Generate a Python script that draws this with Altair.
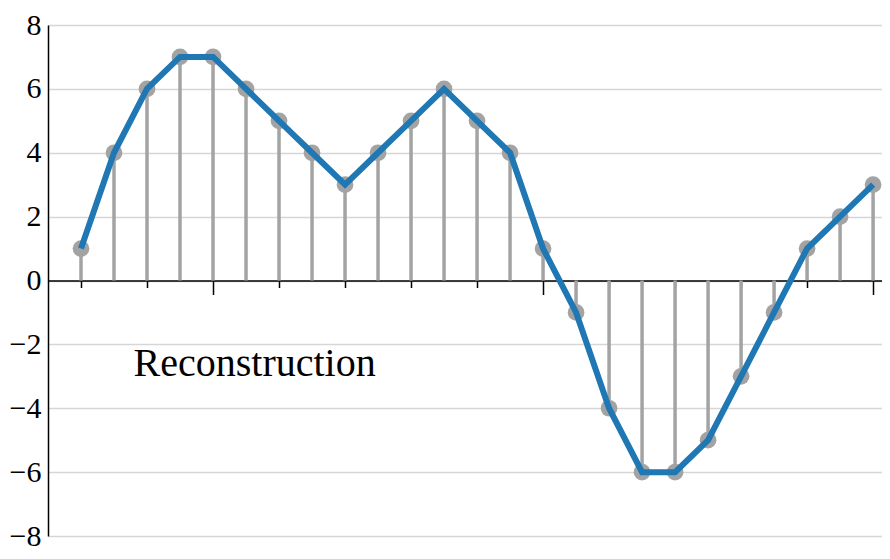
import altair as alt
import pandas as pd

idx = list(range(1, 26))
values = [1, 4, 6, 7, 7, 6, 5, 4, 3, 4, 5, 6, 5, 4, 1, -1, -4, -6, -6, -5, -3, -1, 1, 2, 3]
y_ticks = list(range(-8, 9))
x_ticks = list(range(1, 26))
label_text = ["Reconstruction"]
label_x = [6.26]
label_y = [-3.0]

df = pd.DataFrame({"x": idx, "y": values})
lab = pd.DataFrame({"x": label_x, "y": label_y, "t": label_text})

FONT = "Liberation Serif"

xenc = alt.X(
    "x:Q",
    scale=alt.Scale(domain=[0, 25.27], nice=False, zero=False),
    axis=alt.Axis(
        values=x_ticks,
        labels=False,
        grid=False,
        title=None,
        offset=-255.5,
        domainColor="#000000",
        domainWidth=1.5,
        tickColor="#000000",
        tickWidth=1.5,
        tickSize={"condition": {"test": "datum.value % 5 === 0", "value": 14}, "value": 7},
    ),
)
yenc = alt.Y(
    "y:Q",
    scale=alt.Scale(domain=[-8, 8], nice=False),
    axis=alt.Axis(
        values=y_ticks,
        labelExpr="datum.value % 2 === 0 ? datum.label : ''",
        ticks=False,
        grid=True,
        gridColor="#d6d6d6",
        gridWidth=1.5,
        domainColor="#000000",
        domainWidth=1.5,
        labelFont=FONT,
        labelFontSize=30,
        labelColor="#000000",
        labelPadding=7,
        title=None,
    ),
)

base = alt.Chart(df).encode(x=xenc, y=yenc)

stems = base.mark_rule(color="#a3a3a3", strokeWidth=3.5).encode(y2=alt.Y2(datum=0))
dots = base.mark_circle(color="#a3a3a3", size=280, opacity=1)
line = base.mark_line(color="#1f77b4", strokeWidth=6)
text = alt.Chart(lab).mark_text(font=FONT, fontSize=40, color="#000000", align="center", baseline="alphabetic").encode(
    x=alt.X("x:Q"), y=alt.Y("y:Q"), text="t:N"
)

chart = (
    alt.layer(stems, dots, line, text)
    .properties(
        width=834,
        height=511,
        autosize=alt.AutoSizeParams(type="none"),
        padding={"left": 40, "top": 17, "right": 0, "bottom": 14},
    )
    .configure_view(stroke=None)
)

chart.save("out.html", embed_options={"renderer": "svg", "actions": False})
